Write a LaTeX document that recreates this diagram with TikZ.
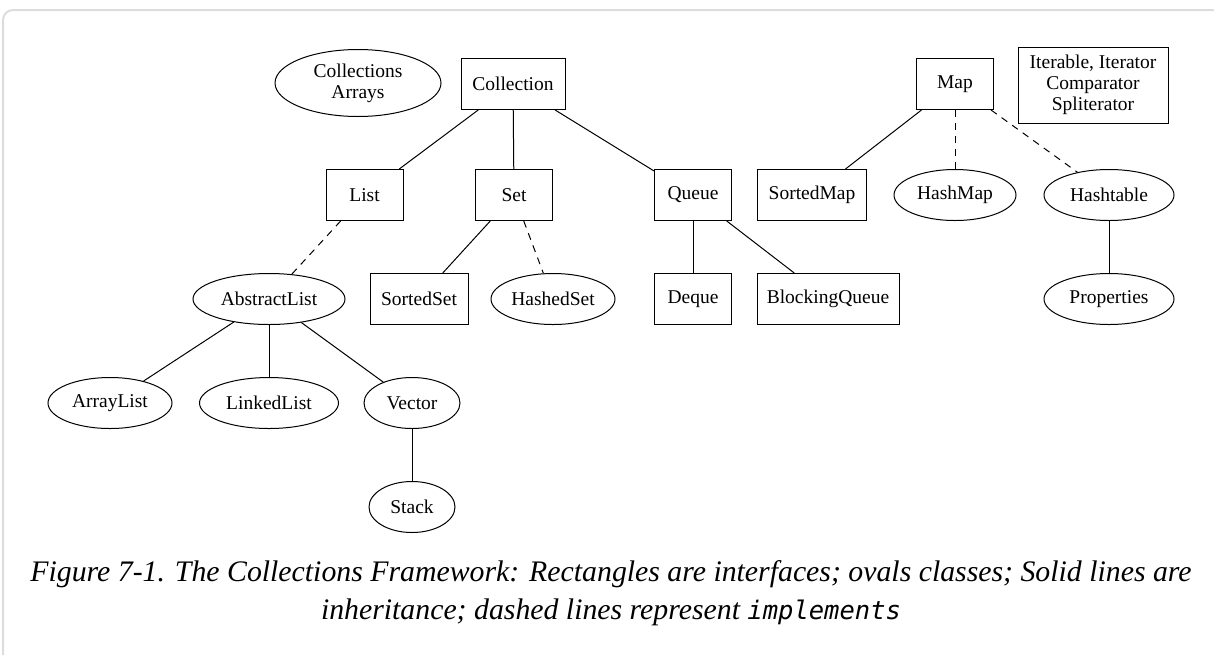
\documentclass[tikz,border=0pt]{standalone}
\usepackage{fontspec}
\setmainfont{Liberation Serif}
\newfontfamily\codefont{DejaVu Sans Mono}
\usetikzlibrary{shapes.geometric}

\definecolor{framegray}{HTML}{DCDCDC}

\tikzset{
  iface/.style={draw, rectangle, line width=1pt, inner sep=0pt,
    minimum height=51pt, font=\fontsize{19.5}{21}\selectfont},
  klass/.style={draw, ellipse, line width=1pt, inner sep=0pt,
    minimum height=51pt, font=\fontsize{19.5}{21}\selectfont},
  inherit/.style={line width=1pt},
  implem/.style={line width=1pt, dash pattern=on 7pt off 6pt},
  caption/.style={inner sep=0pt, anchor=base,
    font=\fontsize{29.8}{34}\selectfont\itshape}
}

\begin{document}
\begin{tikzpicture}[x=1pt, y=-1pt]
\useasboundingbox (0,0) rectangle (1214,654);

% page frame
\begin{scope}
  \clip (0,0) rectangle (1214,654);
  \draw[framegray, line width=2pt, rounded corners=10pt]
    (3,10) rectangle (1240,690);
\end{scope}

% top row
\node[klass, minimum width=166pt, minimum height=67pt, align=center]
  (util) at (358,83) {Collections\\Arrays};
\node[iface, minimum width=104pt] (coll) at (513,84) {Collection};
\node[iface, minimum width=77pt] (map) at (955,84) {Map};
\node[iface, minimum width=150pt, minimum height=76pt, align=center]
  (iter) at (1093,85) {Iterable, Iterator\\Comparator\\Spliterator};

% second row
\node[iface, minimum width=77pt] (list) at (364.5,195) {List};
\node[iface, minimum width=77pt] (set) at (514,195) {Set};
\node[iface, minimum width=77pt] (queue) at (693,195) {Queue};
\node[iface, minimum width=109pt] (smap) at (812,195) {SortedMap};
\node[klass, minimum width=122pt] (hmap) at (955,195) {HashMap};
\node[klass, minimum width=130pt] (htab) at (1109,195) {Hashtable};

% third row
\node[klass, minimum width=152pt] (alist) at (269,299) {AbstractList};
\node[iface, minimum width=98pt] (sset) at (419,299) {SortedSet};
\node[klass, minimum width=124pt] (hset) at (553,299) {HashedSet};
\node[iface, minimum width=77pt] (deque) at (693,299) {Deque};
\node[iface, minimum width=142pt] (bq) at (828,299) {BlockingQueue};
\node[klass, minimum width=130pt] (props) at (1109,299) {Properties};

% fourth row
\node[klass, minimum width=124pt] (alst) at (110,403) {ArrayList};
\node[klass, minimum width=139pt] (llst) at (269,403) {LinkedList};
\node[klass, minimum width=96pt] (vec) at (412,403) {Vector};

% fifth row
\node[klass, minimum width=86pt] (stack) at (412,507) {Stack};

% inheritance
\draw[inherit] (coll) -- (list);
\draw[inherit] (coll) -- (set);
\draw[inherit] (coll) -- (queue);
\draw[inherit] (map) -- (smap);
\draw[inherit] (set) -- (sset);
\draw[inherit] (queue) -- (deque);
\draw[inherit] (queue) -- (bq);
\draw[inherit] (htab) -- (props);
\draw[inherit] (alist) -- (alst);
\draw[inherit] (alist) -- (llst);
\draw[inherit] (alist) -- (vec);
\draw[inherit] (vec) -- (stack);

% implementation
\draw[implem] (list) -- (alist);
\draw[implem] (set) -- (hset);
\draw[implem] (map) -- (hmap);
\draw[implem] (map) -- (htab);

% caption
\node[caption] (cap1) at (611,581)
  {Figure 7-1. The Collections Framework: Rectangles are interfaces; ovals classes; Solid lines are};
\node[caption] (cap2) at (611,619)
  {inheritance; dashed lines represent {\codefont\fontsize{25.5}{30}\selectfont implements}};
\end{tikzpicture}
\end{document}
